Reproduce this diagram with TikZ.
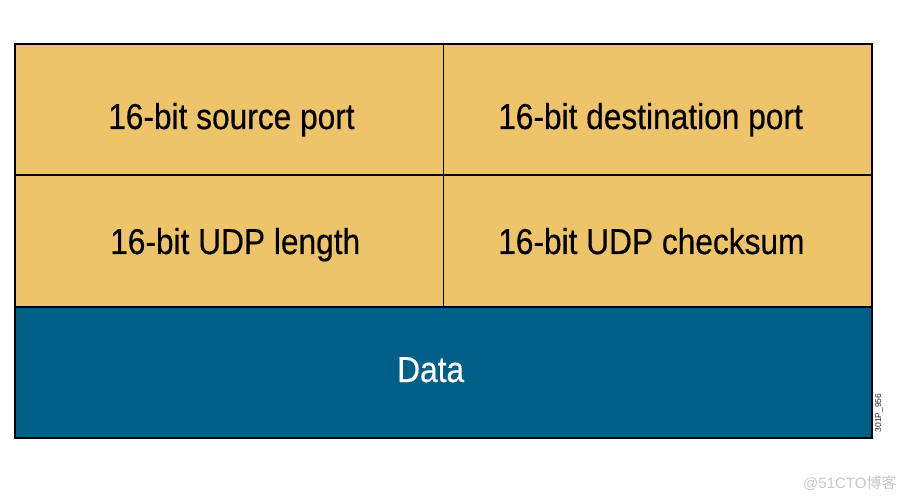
\documentclass[tikz,border=0pt]{standalone}
\usepackage{fontspec}
\setmainfont{Liberation Sans}
\newfontfamily\cellfont[FakeStretch=0.88,FakeBold=0.4]{Liberation Sans}
\newfontfamily\cjkfont{Noto Sans CJK SC}
\definecolor{cellyellow}{RGB}{238,196,106}
\definecolor{datablue}{RGB}{0,95,135}
\definecolor{wmgray}{RGB}{200,200,200}
\begin{document}
\begin{tikzpicture}[x=1pt,y=-1pt,
  cell/.style={draw=black, line width=1.8pt, fill=cellyellow, inner sep=0pt,
    anchor=north west, minimum width=428.5pt, minimum height=131pt},
  datacell/.style={draw=black, line width=1.8pt, fill=datablue, inner sep=0pt,
    anchor=north west, minimum width=857pt, minimum height=131pt},
  celltext/.style={anchor=base west, inner sep=0pt, font=\cellfont\fontsize{36}{36}\selectfont},
  datatext/.style={celltext, text=white},
  tagtext/.style={inner sep=0pt, rotate=90, font=\fontsize{8.5}{8.5}\selectfont, text=black!85},
  wmtext/.style={anchor=base west, inner sep=0pt, text=wmgray, font=\fontsize{15}{15}\selectfont}]
\useasboundingbox (0,0) rectangle (906,500);
\fill[white] (0,0) rectangle (906,500);
\node[datacell] (data) at (14,306) {};
\node[cell] (src) at (14,43) {};
\node[cell] (dst) at (442.5,43) {};
\node[cell] (len) at (14,174.5) {};
\node[cell] (chk) at (442.5,174.5) {};
\node[celltext] (srct) at (108,129) {16-bit source port};
\node[celltext] (dstt) at (498,129) {16-bit destination port};
\node[celltext] (lent) at (110,254) {16-bit UDP length};
\node[celltext] (chkt) at (498,254) {16-bit UDP checksum};
\node[datatext] (datat) at (397,382) {Data};
\node[tagtext] (tag) at (879,413) {301P\_956};
\node[wmtext] (wm) at (803,488) {@51CTO{\cjkfont 博客}};
\end{tikzpicture}
\end{document}
